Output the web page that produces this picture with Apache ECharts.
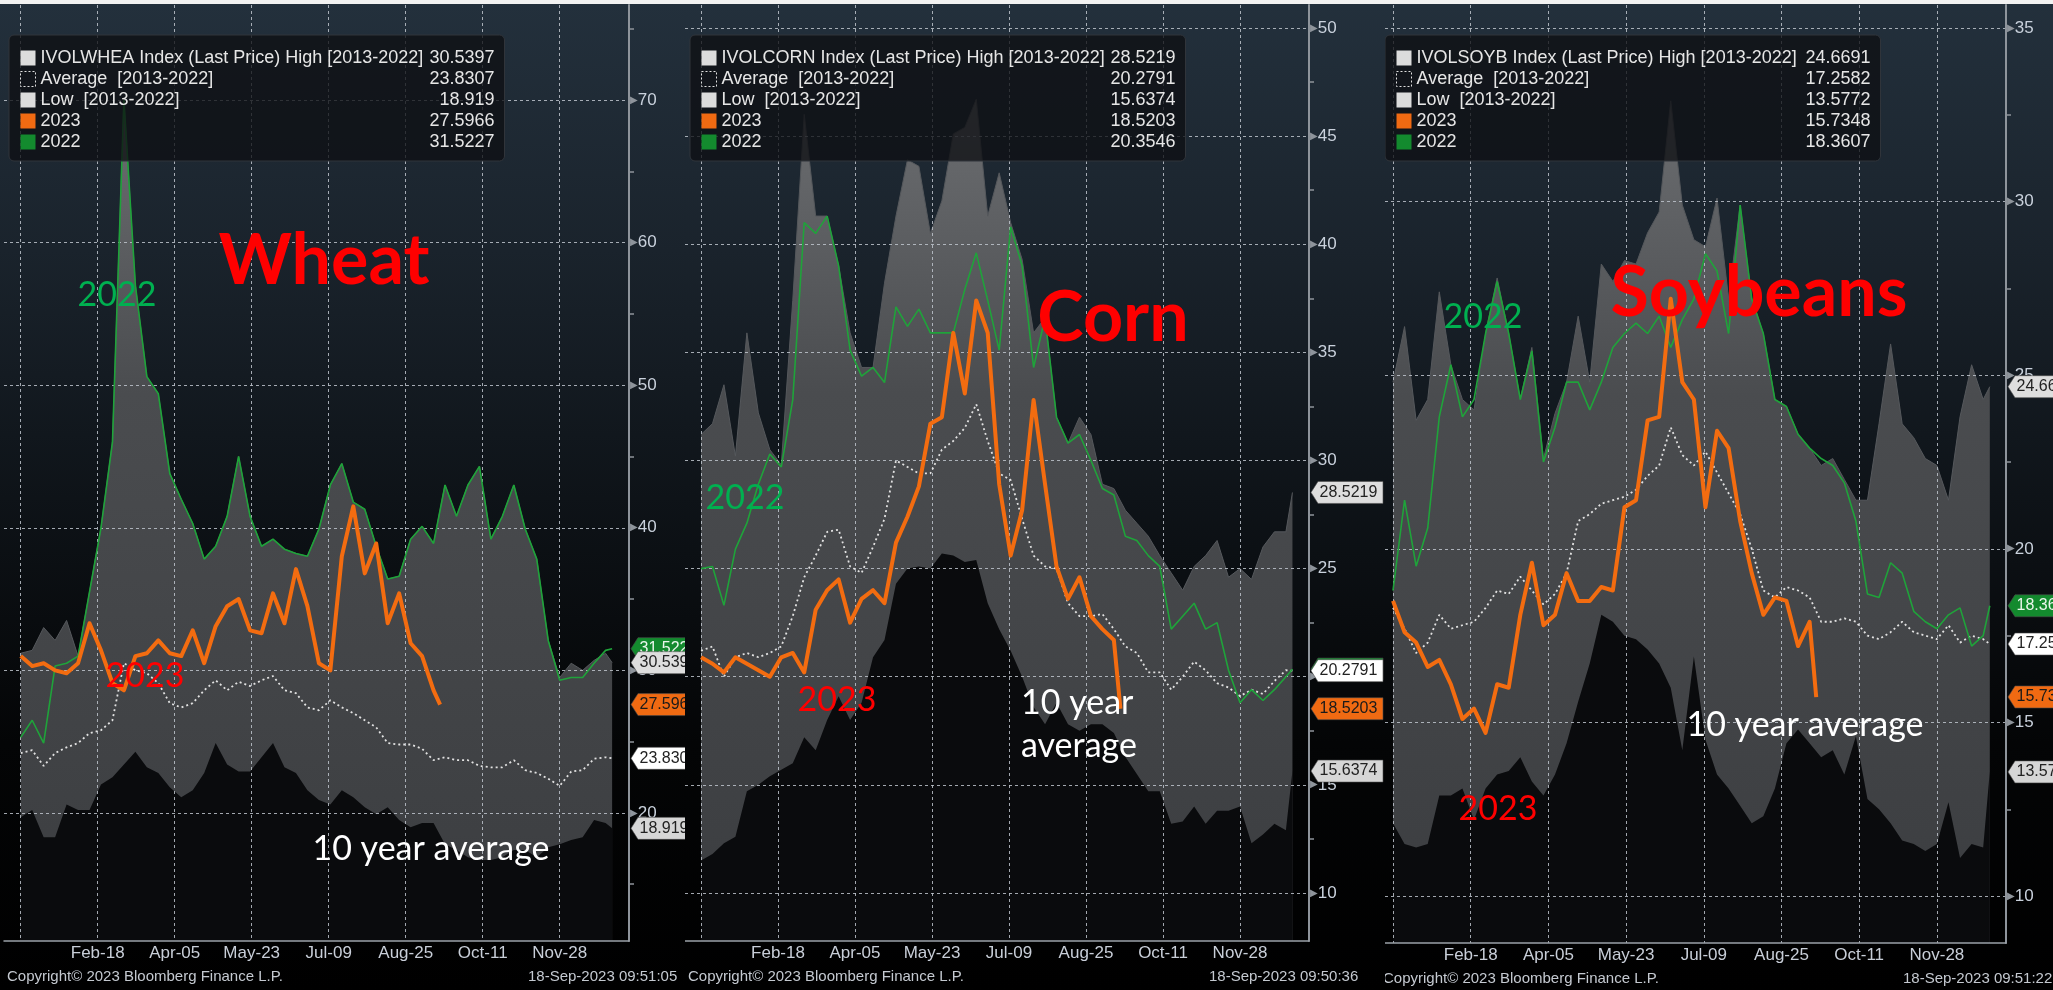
<!DOCTYPE html>
<html>
<head>
<meta charset="utf-8">
<title>Grain implied volatility seasonality</title>
<script src="https://cdn.jsdelivr.net/npm/echarts@6/dist/echarts.min.js"></script>
<style>
  html, body { margin: 0; padding: 0; background: #f2f2f2; }
  .panel { position: absolute; top: 4px; height: 986px; overflow: hidden; }
  #wheatChart { left: 0; width: 685px; }
  #cornChart { left: 685px; width: 700px; }
  #soyChart { left: 1385px; width: 668px; }
</style>
</head>
<body>
<div id="wheatChart" class="panel"></div>
<div id="cornChart" class="panel"></div>
<div id="soyChart" class="panel"></div>
<script>
// day offsets from Jan-02 (seasonal calendar)
const days = [0, 7, 14, 21, 28, 35, 42, 49, 56, 63, 70, 77, 84, 91, 98, 105, 112, 119, 126, 133, 140, 147, 154, 161, 168, 175,
  182, 189, 196, 203, 210, 217, 224, 231, 238, 245, 252, 259, 266, 273, 280, 287, 294, 301, 308, 315, 322, 329, 336, 343, 350, 357, 361]
const days23 = [0, 7, 14, 21, 28, 35, 42, 49, 56, 63, 70, 77, 84, 91, 98, 105, 112, 119, 126, 133, 140, 147, 154, 161, 168, 175,
  182, 189, 196, 203, 210, 217, 224, 231, 238, 245, 252, 256]
const xTickDays = [0, 47, 94, 141, 188, 235, 282, 329]
const xTickLabels = ['', 'Feb-18', 'Apr-05', 'May-23', 'Jul-09', 'Aug-25', 'Oct-11', 'Nov-28']

// Wheat
const wheatHigh = [31.2, 31.4, 33.0, 32.1, 33.5, 31.0, 35.5, 40.0, 46.0, 70.0, 57.0, 50.6, 49.4, 43.8, 42.0, 40.3, 37.8, 38.7, 40.8, 45.0,
  40.8, 38.7, 39.2, 38.5, 38.2, 38.0, 39.9, 43.0, 44.5, 41.8, 41.3, 38.7, 36.4, 36.6, 39.2, 40.1, 38.9, 43.0, 40.8, 43.0, 44.3, 39.2,
  40.8, 43.0, 39.9, 37.8, 32.1, 29.5, 30.5, 30.0, 30.7, 31.2, 30.54]
const wheatAvg = [24.2, 24.4, 23.3, 24.2, 24.6, 24.9, 25.6, 25.8, 26.5, 30.5, 30.0, 29.8, 29.1, 27.7, 27.4, 27.7, 28.6, 29.3, 28.6, 29.2,
  28.9, 29.3, 29.6, 28.6, 28.4, 27.4, 27.2, 27.9, 27.4, 27.0, 26.5, 26.0, 24.9, 24.8, 24.8, 24.5, 23.7, 23.9, 23.7, 23.7, 23.3, 23.2,
  23.2, 23.7, 23.0, 22.8, 22.4, 21.9, 22.9, 23.0, 23.8, 23.9, 23.83]
const wheatLow = [19.7, 20.2, 18.3, 18.3, 20.6, 20.2, 20.2, 22.0, 22.5, 23.4, 24.3, 23.2, 22.8, 21.8, 21.1, 21.6, 22.8, 24.9, 23.4, 22.9,
  22.9, 23.9, 24.9, 23.2, 22.8, 21.6, 20.9, 20.6, 21.6, 21.1, 20.4, 19.9, 20.4, 19.5, 19.0, 19.3, 19.3, 17.8, 17.4, 16.9, 16.7, 16.7,
  16.9, 17.4, 17.4, 16.9, 17.6, 17.8, 18.1, 18.3, 19.5, 19.3, 18.92]
const wheat2023 = [31.0, 30.3, 30.5, 30.0, 29.8, 30.5, 33.3, 31.4, 29.1, 28.6, 31.0, 31.2, 32.1, 31.2, 31.0, 32.8, 30.5, 33.1, 34.5, 35.0,
  32.8, 32.6, 35.4, 33.3, 37.1, 34.5, 30.5, 30.0, 38.0, 41.5, 36.8, 38.9, 33.3, 35.4, 31.9, 31.0, 28.6, 27.6]
const wheat2022 = [25.3, 26.5, 24.9, 30.3, 30.5, 31.0, 35.5, 40.0, 46.0, 70.0, 57.0, 50.6, 49.4, 43.8, 42.0, 40.3, 37.8, 38.7, 40.8, 45.0,
  40.8, 38.7, 39.2, 38.5, 38.2, 38.0, 39.9, 43.0, 44.5, 41.8, 41.3, 38.7, 36.4, 36.6, 39.2, 40.1, 38.9, 43.0, 40.8, 43.0, 44.3, 39.2,
  40.8, 43.0, 39.9, 37.8, 32.1, 29.3, 29.5, 29.5, 30.5, 31.4, 31.52]
const wheatLast = [30.5397, 23.8307, 18.919, 27.5966, 31.5227]
const wheatTicks = [20, 30, 40, 50, 60, 70]
const wheatMinor = [15, 25, 35, 45, 55, 65, 75]

// Corn
const cornHigh = [31.2, 31.7, 33.5, 30.2, 35.9, 32.2, 30.5, 29.8, 37.4, 46.0, 41.3, 41.3, 39.0, 35.9, 34.3, 34.3, 38.2, 41.3, 43.9, 43.6,
  40.5, 42.0, 45.1, 45.4, 46.7, 41.3, 43.3, 41.0, 39.3, 35.9, 36.6, 32.0, 30.8, 32.0, 31.2, 28.9, 28.7, 27.7, 27.1, 26.5, 25.6, 24.8,
  24.0, 25.1, 25.6, 26.3, 24.6, 25.0, 24.5, 26.0, 26.7, 26.7, 28.52]
const cornAvg = [21.2, 21.4, 20.0, 20.9, 21.1, 20.9, 21.1, 21.4, 22.8, 24.6, 25.6, 26.7, 26.8, 25.1, 24.8, 26.0, 27.3, 30.0, 29.7, 29.4,
  29.4, 30.5, 30.9, 31.5, 32.6, 30.9, 29.4, 29.1, 27.3, 25.6, 25.1, 25.0, 23.4, 22.8, 22.8, 22.9, 22.2, 21.4, 21.1, 20.2, 20.2, 19.4,
  20.0, 20.7, 20.3, 19.7, 19.5, 19.1, 19.4, 19.2, 19.8, 20.3, 20.28]
const cornLow = [11.5, 11.8, 12.3, 12.6, 14.7, 15.0, 15.4, 15.7, 16.0, 17.2, 16.6, 18.0, 19.1, 18.0, 18.8, 20.9, 21.7, 24.3, 25.0, 25.1,
  25.0, 25.7, 25.6, 25.3, 25.4, 23.4, 22.2, 21.2, 20.0, 18.6, 17.8, 18.8, 17.8, 17.5, 17.8, 17.8, 17.4, 16.3, 15.5, 14.7, 14.7, 13.2,
  13.3, 14.0, 13.2, 13.8, 13.8, 14.0, 12.3, 12.7, 13.2, 12.9, 15.64]
const corn2023 = [20.9, 20.6, 20.2, 20.9, 20.6, 20.3, 20.0, 20.9, 21.1, 20.2, 23.1, 24.0, 24.5, 22.5, 23.6, 24.0, 23.4, 26.2, 27.4, 28.8,
  31.7, 32.0, 35.9, 33.1, 37.4, 35.9, 28.9, 25.6, 27.7, 32.8, 28.9, 25.1, 23.6, 24.6, 22.8, 22.2, 21.7, 18.52]
const corn2022 = [25.0, 25.1, 23.3, 25.9, 27.1, 28.9, 30.3, 29.7, 32.8, 41.0, 40.5, 41.3, 39.0, 35.1, 33.9, 34.3, 33.6, 37.1, 36.2, 37.0,
  35.9, 35.9, 35.9, 37.9, 39.6, 37.4, 35.1, 40.8, 39.0, 34.3, 36.6, 32.0, 30.8, 31.2, 30.0, 28.7, 28.4, 26.5, 26.3, 25.6, 25.1, 22.2,
  22.8, 23.4, 22.2, 22.5, 20.3, 18.8, 19.4, 18.9, 19.4, 20.0, 20.35]
const cornLast = [28.5219, 20.2791, 15.6374, 18.5203, 20.3546]
const cornTicks = [10, 15, 20, 25, 30, 35, 40, 45, 50]
const cornMinor = [12.5, 17.5, 22.5, 27.5, 32.5, 37.5, 42.5, 47.5]

// Soybeans
const soyHigh = [24.8, 26.4, 23.7, 24.3, 27.4, 25.3, 24.3, 24.0, 26.2, 27.8, 26.2, 24.3, 25.8, 22.6, 23.9, 24.8, 26.7, 24.8, 28.2, 27.7,
  28.3, 28.2, 29.1, 29.7, 32.9, 29.9, 28.9, 28.7, 30.1, 27.2, 29.9, 27.2, 26.2, 24.3, 24.1, 23.3, 22.9, 22.4, 22.6, 22.0, 21.4, 21.4,
  23.6, 25.9, 23.6, 23.2, 22.6, 22.4, 21.4, 23.8, 25.3, 24.3, 24.67]
const soyAvg = [18.3, 17.7, 17.0, 17.3, 18.1, 17.7, 17.8, 17.9, 18.3, 18.8, 18.7, 19.2, 18.8, 18.4, 18.7, 19.3, 20.8, 21.0, 21.3, 21.4,
  21.5, 21.7, 22.1, 22.4, 23.5, 22.7, 22.4, 22.8, 22.2, 21.6, 21.0, 20.0, 18.8, 18.6, 18.9, 18.8, 18.6, 17.9, 17.9, 18.0, 17.9, 17.5,
  17.4, 17.6, 17.9, 17.6, 17.5, 17.4, 17.8, 17.3, 17.5, 17.4, 17.26]
const soyLow = [12.1, 11.5, 11.4, 11.5, 12.9, 12.9, 13.1, 12.2, 13.1, 13.5, 13.6, 14.0, 13.3, 12.9, 13.5, 14.4, 15.6, 16.7, 18.1, 17.9,
  17.5, 17.4, 17.1, 16.7, 16.0, 14.2, 16.9, 14.5, 13.5, 13.1, 12.6, 12.1, 12.3, 13.1, 14.4, 14.8, 14.4, 14.0, 14.2, 13.5, 14.6, 12.8,
  12.5, 12.1, 11.6, 11.5, 11.3, 11.5, 12.7, 11.1, 11.5, 11.4, 13.58]
const soy2023 = [18.5, 17.6, 17.3, 16.6, 16.8, 16.1, 15.1, 15.4, 14.7, 16.1, 16.0, 18.1, 19.6, 17.8, 18.1, 19.3, 18.5, 18.5, 18.9, 18.8,
  21.2, 21.4, 23.7, 23.8, 27.2, 24.8, 24.3, 21.2, 23.4, 22.9, 20.8, 19.3, 18.1, 18.6, 18.5, 17.2, 17.9, 15.73]
const soy2022 = [18.8, 21.4, 19.5, 20.6, 23.8, 25.3, 23.8, 24.3, 26.2, 27.7, 26.2, 24.3, 25.7, 22.5, 23.5, 24.8, 24.8, 24.0, 24.8, 25.8,
  26.2, 26.5, 26.2, 26.7, 25.8, 26.6, 27.2, 28.5, 28.0, 26.2, 29.9, 27.2, 26.2, 24.3, 24.1, 23.3, 22.9, 22.6, 22.4, 21.9, 20.8, 18.7,
  18.6, 19.6, 19.3, 18.2, 17.9, 17.7, 18.1, 18.3, 17.2, 17.5, 18.36]
const soyLast = [24.6691, 17.2582, 13.5772, 15.7348, 18.3607]
const soyTicks = [10, 15, 20, 25, 30, 35]
const soyMinor = [12.5, 17.5, 22.5, 27.5, 32.5]

const LABEL_FONT = "'Liberation Sans', Arial, sans-serif"
const NOTE_FONT = "Lato, 'Open Sans', sans-serif"
const GRID_LINE = {color: 'rgba(190,196,204,0.85)', type: [3, 3], width: 1}
const AXIS_GREY = '#8e949b'

const pair = (xs, ys) => ys.map((v, i) => [xs[i], v])

const buildOption = (p) => {
  const names = [
    p.ticker + ' Index (Last Price) High [2013-2022]',
    'Average  [2013-2022]',
    'Low  [2013-2022]',
    '2023',
    '2022'
  ]
  const lastByName = {}
  names.forEach((n, i) => { lastByName[n] = String(p.last[i]) })

  // value tags on the right axis: [index into last, fill, text colour]
  const tags = [[4, '#138a2e', '#eaf6ec'], [0, '#dedede', '#222'], [3, '#f06a12', '#1a1a1a'], [1, '#ffffff', '#222'], [2, '#d6d6d6', '#222']]

  return {
    animation: false,
    backgroundColor: new echarts.graphic.LinearGradient(0, 0, 0, 1, [
      {offset: 0, color: '#23303c'},
      {offset: 0.25, color: '#1a232c'},
      {offset: 0.5, color: '#0e1318'},
      {offset: 0.75, color: '#040506'},
      {offset: 1, color: '#000000'}
    ]),
    grid: Object.assign({show: false}, p.grid),
    legend: {
      orient: 'vertical',
      left: p.legendLeft,
      top: 31,
      z: 15,
      padding: [14, 10, 10, 11],
      itemWidth: 15,
      itemHeight: 15,
      itemGap: 3,
      icon: 'rect',
      selectedMode: false,
      backgroundColor: 'rgba(14,16,19,0.78)',
      borderColor: '#30343a',
      borderWidth: 1,
      borderRadius: 5,
      textStyle: {
        color: '#e6e6e6',
        fontSize: 18,
        lineHeight: 18,
        fontFamily: LABEL_FONT,
        rich: {
          n: {width: 392, fontSize: 18, fontFamily: LABEL_FONT, color: '#e6e6e6'},
          v: {width: 62, align: 'right', fontSize: 18, fontFamily: LABEL_FONT, color: '#e6e6e6'}
        }
      },
      formatter: name => '{n|' + name + '}{v|' + lastByName[name] + '}',
      data: [
        {name: names[0], itemStyle: {color: '#dcdcdc'}},
        {name: names[1], itemStyle: {color: 'rgba(0,0,0,0)', borderColor: '#e0e0e0', borderWidth: 1, borderType: [2, 2]}},
        {name: names[2], itemStyle: {color: '#dcdcdc'}},
        {name: names[3], itemStyle: {color: '#f06a12'}},
        {name: names[4], itemStyle: {color: '#138a2e'}}
      ]
    },
    xAxis: {
      type: 'value',
      min: p.xMin,
      max: p.xMax,
      z: 3,
      axisLine: {show: true, onZero: false, lineStyle: {color: '#9ba1a8', width: 1.5}},
      axisTick: {show: false, customValues: xTickDays},
      axisLabel: {
        customValues: xTickDays.slice(1),
        color: '#c8ced8',
        fontSize: 17,
        fontFamily: LABEL_FONT,
        margin: 4,
        formatter: v => xTickLabels[xTickDays.indexOf(v)]
      },
      splitLine: {show: true, lineStyle: GRID_LINE}
    },
    yAxis: [{
      type: 'value',
      position: 'right',
      min: p.yMin,
      max: p.yMax,
      z: 3,
      axisLine: {show: true, onZero: false, lineStyle: {color: AXIS_GREY, width: 2}},
      axisTick: {show: false, customValues: p.yTicks},
      axisLabel: {
        customValues: p.yTicks,
        margin: 1,
        formatter: v => '{t|▶}{v|' + v + '}',
        rich: {
          t: {color: AXIS_GREY, fontSize: 10, fontFamily: 'DejaVu Sans'},
          v: {color: '#c9d1dc', fontSize: 17, fontFamily: LABEL_FONT}
        }
      },
      splitLine: {show: true, lineStyle: GRID_LINE}
    }, {
      // minor ticks
      type: 'value',
      position: 'right',
      min: p.yMin,
      max: p.yMax,
      z: 3,
      axisLine: {show: false, onZero: false},
      axisLabel: {show: false},
      splitLine: {show: false},
      axisTick: {show: true, customValues: p.yMinor, length: 5, lineStyle: {color: AXIS_GREY, width: 1.5}}
    }],
    series: [
      {
        name: names[0], type: 'line', z: 1, symbol: 'none', silent: true,
        data: pair(days, p.high),
        itemStyle: {color: '#dcdcdc'},
        lineStyle: {width: 1, color: '#55585c'},
        areaStyle: {
          opacity: 1, origin: 'start',
          color: new echarts.graphic.LinearGradient(0, 0, 0, 1, [
            {offset: 0, color: '#6c6e71'},
            {offset: 0.35, color: '#4a4c4f'},
            {offset: 1, color: '#3b3d40'}
          ])
        }
      },
      {
        name: names[2], type: 'line', z: 2, symbol: 'none', silent: true,
        data: pair(days, p.low),
        itemStyle: {color: '#dcdcdc'},
        lineStyle: {width: 0},
        areaStyle: {color: '#0a0b0d', opacity: 1, origin: 'start'}
      },
      {
        name: names[1], type: 'line', z: 5, symbol: 'none', silent: true,
        data: pair(days, p.avg),
        itemStyle: {color: '#e6e6e6'},
        lineStyle: {width: 1.8, color: '#e2e2e2', type: [2, 3]}
      },
      {
        name: names[4], type: 'line', z: 6, symbol: 'none', silent: true,
        data: pair(days, p.y22),
        itemStyle: {color: '#1fa33a'},
        lineStyle: {width: 1.6, color: '#1fa33a'}
      },
      {
        name: names[3], type: 'line', z: 7, symbol: 'none', silent: true,
        data: pair(days23, p.y23),
        itemStyle: {color: '#f36c10'},
        lineStyle: {width: 4, color: '#f36c10', join: 'round'}
      }
    ].concat(tags.map((t, k) => ({
      name: 'tag' + k, type: 'scatter', z: 10 + k, clip: false, silent: true,
      data: [[p.xMax, p.last[t[0]]]],
      symbol: 'path://M0,11L7,0L72,0L72,22L7,22Z',
      symbolSize: [72, 22],
      symbolOffset: [38, 0],
      itemStyle: {color: t[1], borderColor: '#4a4a4a', borderWidth: 0.5, opacity: 1},
      label: {
        show: true, position: 'insideLeft', distance: 9,
        color: t[2], fontSize: 16, fontFamily: LABEL_FONT,
        formatter: params => String(params.value[1])
      }
    }))),
    graphic: p.notes.map(n => ({
      type: 'text', x: n.x, y: n.y, z: 30, silent: true,
      style: {
        text: n.text, fill: n.color, fontSize: n.size, fontWeight: n.weight || 'normal',
        fontFamily: NOTE_FONT, align: n.align || 'center', verticalAlign: 'middle'
      }
    })).concat(p.footer.map(f => ({
      type: 'text', x: f.x, y: f.y, z: 30, silent: true,
      style: {text: f.text, fill: '#c4c9d0', fontSize: 15, fontFamily: LABEL_FONT, align: 'left', verticalAlign: 'middle'}
    })))
  }
}

const panels = [
  {
    el: 'wheatChart', ticker: 'IVOLWHEA',
    high: wheatHigh, avg: wheatAvg, low: wheatLow, y23: wheat2023, y22: wheat2022, last: wheatLast,
    yTicks: wheatTicks, yMinor: wheatMinor,
    grid: {left: 4, top: 1, width: 625, height: 936},
    xMin: -10.2, xMax: 371.3, yMin: 11.02, yMax: 76.66,
    legendLeft: 9,
    notes: [
      {text: 'Wheat', x: 324, y: 257, size: 70, color: '#ff0000', weight: 'bold'},
      {text: '2022', x: 117, y: 291, size: 34, color: '#00b050'},
      {text: '2023', x: 145, y: 672, size: 34, color: '#ff0000'},
      {text: '10 year average', x: 431, y: 845, size: 34, color: '#ffffff'}
    ],
    footer: [
      {text: 'Copyright© 2023 Bloomberg Finance L.P.', x: 7, y: 973},
      {text: '18-Sep-2023 09:51:05', x: 528, y: 973}
    ]
  },
  {
    el: 'cornChart', ticker: 'IVOLCORN',
    high: cornHigh, avg: cornAvg, low: cornLow, y23: corn2023, y22: corn2022, last: cornLast,
    yTicks: cornTicks, yMinor: cornMinor,
    grid: {left: 0, top: 1, width: 624, height: 936},
    xMin: -9.77, xMax: 371.1, yMin: 7.78, yMax: 51.06,
    legendLeft: 5,
    notes: [
      {text: 'Corn', x: 428, y: 314, size: 70, color: '#ff0000', weight: 'bold'},
      {text: '2022', x: 60, y: 494, size: 34, color: '#00b050'},
      {text: '2023', x: 152, y: 696, size: 34, color: '#ff0000'},
      {text: '10 year', x: 336, y: 699, size: 34, color: '#ffffff', align: 'left'},
      {text: 'average', x: 336, y: 742, size: 34, color: '#ffffff', align: 'left'}
    ],
    footer: [
      {text: 'Copyright© 2023 Bloomberg Finance L.P.', x: 3, y: 973},
      {text: '18-Sep-2023 09:50:36', x: 524, y: 973}
    ]
  },
  {
    el: 'soyChart', ticker: 'IVOLSOYB',
    high: soyHigh, avg: soyAvg, low: soyLow, y23: soy2023, y22: soy2022, last: soyLast,
    yTicks: soyTicks, yMinor: soyMinor,
    grid: {left: 0, top: 1, width: 621, height: 938},
    xMin: -4.84, xMax: 370.8, yMin: 8.65, yMax: 35.66,
    legendLeft: 0,
    notes: [
      {text: 'Soybeans', x: 374, y: 289, size: 70, color: '#ff0000', weight: 'bold'},
      {text: '2022', x: 98, y: 313, size: 34, color: '#00b050'},
      {text: '2023', x: 113, y: 805, size: 34, color: '#ff0000'},
      {text: '10 year average', x: 420, y: 721, size: 34, color: '#ffffff'}
    ],
    footer: [
      {text: 'Copyright© 2023 Bloomberg Finance L.P.', x: -2, y: 975},
      {text: '18-Sep-2023 09:51:22', x: 518, y: 975}
    ]
  }
]

panels.forEach(p => {
  const chart = echarts.init(document.getElementById(p.el))
  chart.setOption(buildOption(p))
})
</script>
</body>
</html>
